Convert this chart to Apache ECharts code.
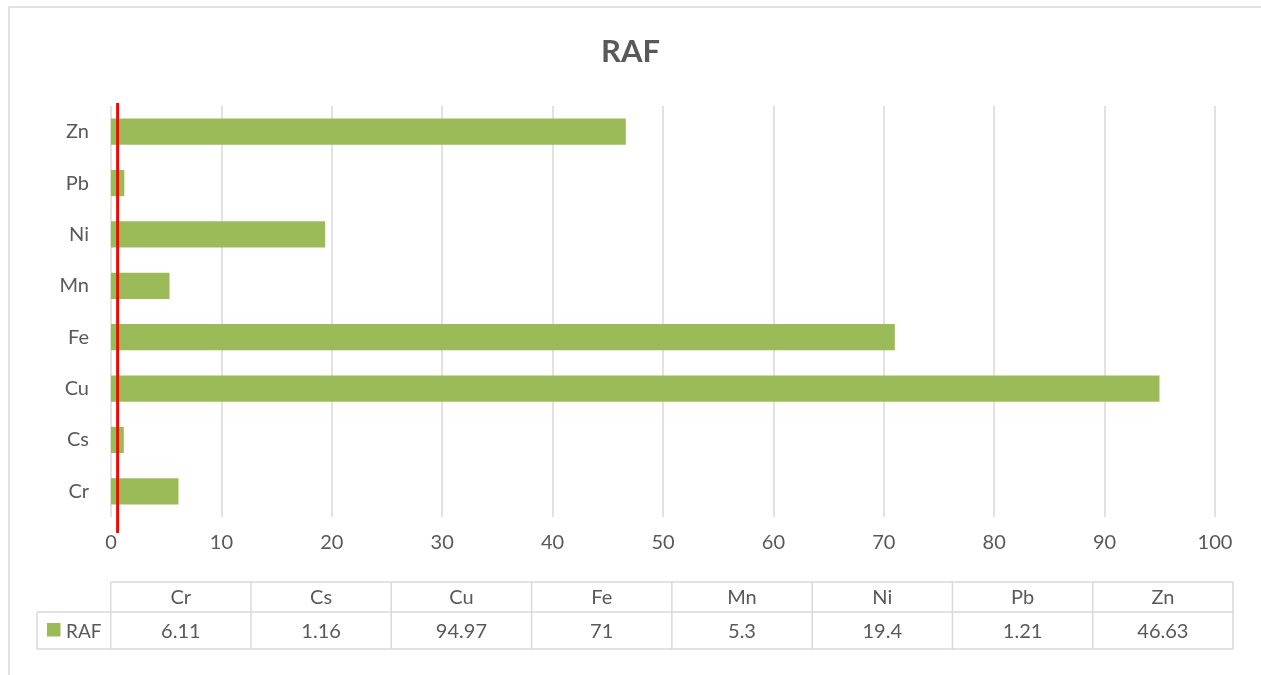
<!DOCTYPE html>
<html>
<head>
<meta charset="utf-8">
<style>
  html, body { margin: 0; padding: 0; background: #fff; }
  #chart { width: 1261px; height: 675px; }
</style>
<script src="https://cdn.jsdelivr.net/npm/echarts@6/dist/echarts.min.js"></script>
</head>
<body>
<div id="chart"></div>
<script>
// RAF per element
const categories = ['Cr', 'Cs', 'Cu', 'Fe', 'Mn', 'Ni', 'Pb', 'Zn'];
const rafValues = [6.11, 1.16, 94.97, 71, 5.3, 19.4, 1.21, 46.63];
const seriesName = 'RAF';
const thresholdValue = 0.6;
const xTicks = [0, 10, 20, 30, 40, 50, 60, 70, 80, 90, 100];

const FONT = 'Lato, "Open Sans", sans-serif';
const TEXT = '#595959';
const LINE = '#d9d9d9';
const BAR = '#9BBB59';

const chart = echarts.init(document.getElementById('chart'));

chart.setOption({
  animation: false,
  backgroundColor: '#fff',
  title: {
    text: 'RAF',
    left: 'center',
    top: 31,
    textStyle: { fontFamily: FONT, fontSize: 31, fontWeight: 'bold', color: TEXT }
  },
  grid: { left: 111, right: 46, top: 106, bottom: 158 },
  xAxis: {
    type: 'value',
    min: xTicks[0],
    max: xTicks[xTicks.length - 1],
    interval: 10,
    axisLine: { show: false },
    axisTick: { show: false },
    axisLabel: { color: TEXT, fontFamily: FONT, fontSize: 20, margin: 16 },
    splitLine: { lineStyle: { color: LINE, width: 1.5 } }
  },
  yAxis: {
    type: 'category',
    data: categories,
    axisLine: { show: false },
    axisTick: { show: false },
    axisLabel: { color: TEXT, fontFamily: FONT, fontSize: 20, margin: 22 }
  },
  series: [{
    name: seriesName,
    type: 'bar',
    data: rafValues,
    barCategoryGap: '49%',
    itemStyle: { color: BAR }
  }]
});

// border, threshold line and data table
function drawOverlay() {
  const gridRect = chart.getModel().getComponent('grid').coordinateSystem.getRect();
  const xThr = chart.convertToPixel({ xAxisIndex: 0 }, thresholdValue);
  const els = [];

  // chart frame
  els.push({
    type: 'rect', silent: true, z: 0,
    shape: { x: 9, y: 7, width: 1300, height: 700 },
    style: { fill: 'none', stroke: LINE, lineWidth: 1.5 }
  });

  // threshold line
  els.push({
    type: 'line', silent: true, z: 10,
    shape: { x1: xThr, y1: gridRect.y - 3, x2: xThr, y2: gridRect.y + gridRect.height + 16 },
    style: { stroke: '#FF0000', lineWidth: 3 }
  });

  // data table
  const tLeft = 110.7, tRight = 1233, legendLeft = 37;
  const yTop = 582, yMid = 612, yBot = 649;
  const colW = (tRight - tLeft) / categories.length;
  const lineStyle = { stroke: LINE, lineWidth: 1.5 };
  const hline = (x1, x2, y) => els.push({ type: 'line', silent: true, shape: { x1, y1: y, x2, y2: y }, style: lineStyle });
  const vline = (x, y1, y2) => els.push({ type: 'line', silent: true, shape: { x1: x, y1, x2: x, y2 }, style: lineStyle });

  hline(tLeft, tRight, yTop);
  hline(legendLeft, tRight, yMid);
  hline(legendLeft, tRight, yBot);
  vline(legendLeft, yMid, yBot);
  for (let i = 0; i <= categories.length; i++) {
    vline(tLeft + i * colW, yTop, yBot);
  }
  categories.forEach((c, i) => {
    const cx = tLeft + (i + 0.5) * colW;
    els.push({
      type: 'text', silent: true,
      style: { text: c, x: cx, y: (yTop + yMid) / 2 + 1, align: 'center', verticalAlign: 'middle',
               fill: TEXT, font: '20px ' + FONT }
    });
    els.push({
      type: 'text', silent: true,
      style: { text: String(rafValues[i]), x: cx, y: (yMid + yBot) / 2 + 1, align: 'center', verticalAlign: 'middle',
               fill: TEXT, font: '20px ' + FONT }
    });
  });
  // legend key
  els.push({
    type: 'rect', silent: true,
    shape: { x: 47, y: 623, width: 13.5, height: 13.5 },
    style: { fill: BAR }
  });
  els.push({
    type: 'text', silent: true,
    style: { text: seriesName, x: 66, y: (yMid + yBot) / 2 + 1, align: 'left', verticalAlign: 'middle',
             fill: TEXT, font: '19px ' + FONT }
  });

  chart.setOption({ graphic: { elements: els } });
}
drawOverlay();
</script>
</body>
</html>
